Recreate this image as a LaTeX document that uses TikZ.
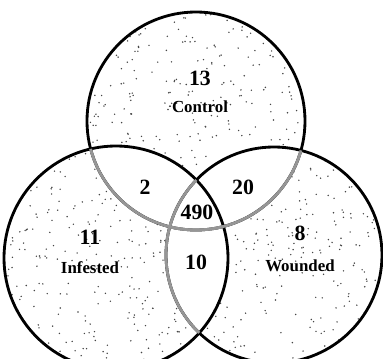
\documentclass[tikz,border=0pt]{standalone}
\usepackage{fontspec}
\setmainfont{Liberation Serif}
\usetikzlibrary{positioning}
\definecolor{arcgray}{RGB}{150,150,150}
\definecolor{dotgray}{RGB}{70,70,70}

% circle paths (pixel-like units)
\def\ctrlcirc{(196,237) circle (109)}
\def\infcirc{(116,100) circle (112)}
\def\wndcirc{(274,103) circle (108)}

\begin{document}
\begin{tikzpicture}[
  x=0.025cm, y=0.025cm,
  setline/.style={line width=2pt, black},
  innerline/.style={line width=2pt, arcgray},
  countlbl/.style={font=\fontsize{15.5}{16}\selectfont\bfseries, inner sep=0pt},
  setlbl/.style={font=\fontsize{12}{13}\selectfont\bfseries, inner sep=0pt},
  speck/.style={fill=dotgray}
]
\useasboundingbox[fill=white] (0,0) rectangle (383,358);
\pgfmathsetseed{4217}

% stipple in each set
\begin{scope}
  \clip \ctrlcirc;
  \foreach \k in {1,...,330}
    \fill[speck] ({196+(2*rnd-1)*109},{237+(2*rnd-1)*109}) circle (0.8);
\end{scope}
\begin{scope}
  \clip \infcirc;
  \foreach \k in {1,...,360}
    \fill[speck] ({116+(2*rnd-1)*112},{100+(2*rnd-1)*112}) circle (0.8);
\end{scope}
\begin{scope}
  \clip \wndcirc;
  \foreach \k in {1,...,330}
    \fill[speck] ({274+(2*rnd-1)*108},{103+(2*rnd-1)*108}) circle (0.8);
\end{scope}

% overlaps stay blank
\begin{scope}
  \clip \ctrlcirc;
  \fill[white] \infcirc;
  \fill[white] \wndcirc;
\end{scope}
\begin{scope}
  \clip \infcirc;
  \fill[white] \wndcirc;
\end{scope}

% outlines
\draw[setline] \ctrlcirc;
\draw[setline] \infcirc;
\draw[setline] \wndcirc;

% grey inner arcs
\begin{scope}
  \clip \infcirc;
  \draw[innerline] \ctrlcirc;
  \draw[innerline] \wndcirc;
\end{scope}
\begin{scope}
  \clip \wndcirc;
  \draw[innerline] \ctrlcirc;
\end{scope}

% counts and set names
\node[countlbl] (nctrl) at (200,280) {13};
\node[setlbl, below=15 of nctrl] (lctrl) {Control};
\node[countlbl] (nci) at (145,171) {2};
\node[countlbl] (ncw) at (243,171) {20};
\node[countlbl] (nall) at (197,146) {490};
\node[countlbl] (niw) at (196,96) {10};
\node[countlbl] (ninf) at (90,121) {11};
\node[setlbl, below=17 of ninf] (linf) {Infested};
\node[countlbl] (nwnd) at (300,125) {8};
\node[setlbl, below=19 of nwnd] (lwnd) {Wounded};

\end{tikzpicture}
\end{document}
